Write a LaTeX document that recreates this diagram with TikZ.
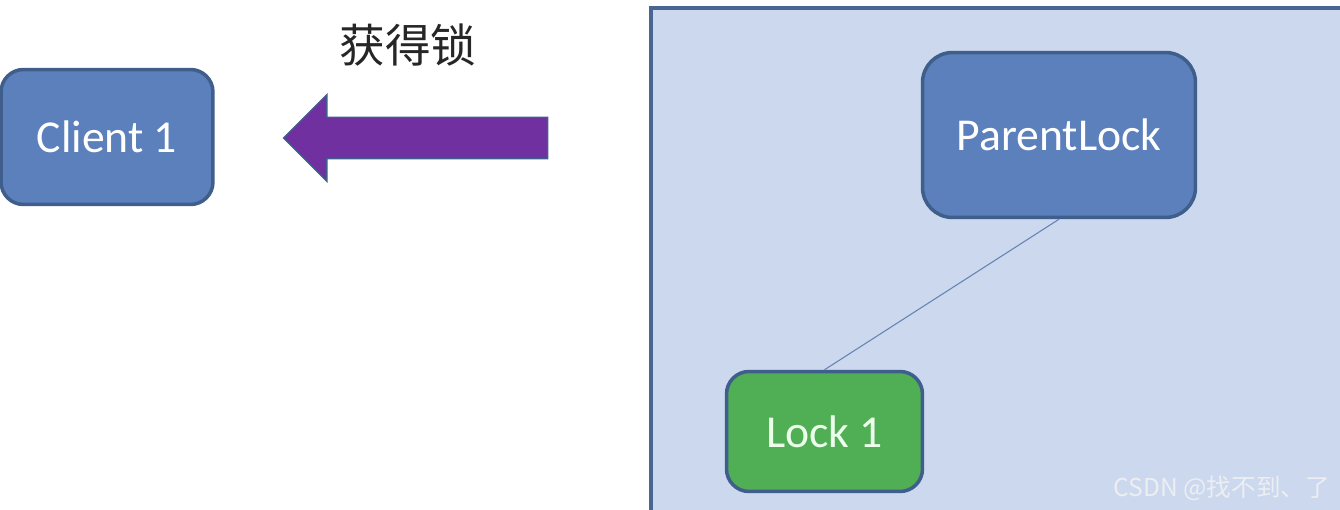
\documentclass[tikz,border=0pt]{standalone}
\usepackage{fontspec}
\setmainfont{Carlito}
\newfontfamily\cjk{Noto Sans CJK SC}
\definecolor{lkblue}{RGB}{91,128,188}
\definecolor{lkedge}{RGB}{64,94,140}
\definecolor{lkpanel}{RGB}{203,216,238}
\definecolor{lkpanedge}{RGB}{72,102,145}
\definecolor{lkgreen}{RGB}{80,175,84}
\definecolor{lkpurple}{RGB}{112,48,160}
\definecolor{lkline}{RGB}{100,130,180}
\definecolor{lkmark}{RGB}{236,238,242}
\usetikzlibrary{shapes.arrows}

\begin{document}
\begin{tikzpicture}[
  x=0.02cm, y=-0.02cm,
  lockbox/.style={
    rectangle, rounded corners=0.45cm,
    draw=lkedge, line width=2pt,
    fill=lkblue,
    font=\fontsize{26}{30}\selectfont,
    text=white,
    align=center
  },
  getarrow/.style={
    single arrow, shape border rotate=180,
    minimum width=1.7cm, minimum height=5.28cm,
    single arrow head extend=0.45cm,
    inner xsep=0pt, inner ysep=0.4cm,
    draw=lkedge, line width=0.8pt, fill=lkpurple
  },
  link/.style={draw=lkline, line width=0.6pt}
]
\useasboundingbox (0,0) rectangle (1340,510);
\fill[white] (0,0) rectangle (1340,510);

% server side
\draw[draw=lkpanedge, fill=lkpanel, line width=2pt] (651,8) rectangle (1360,530);

\node[lockbox, minimum width=4.24cm, minimum height=2.7cm] (client1) at (107,137) {Client 1};
\node[lockbox, minimum width=5.46cm, minimum height=3.3cm, rounded corners=0.6cm] (parent) at (1059,135) {ParentLock};
\node[lockbox, fill=lkgreen, text=green!8, minimum width=3.92cm, minimum height=2.4cm, rounded corners=0.45cm] (lock1) at (824.5,431.5) {Lock 1};

\draw[link] (parent.south) -- (lock1.north);

\node[getarrow] (grab) at (426,138) {};
\node[font=\cjk\fontsize{26}{30}\selectfont, text=black!85] (grablabel) at (408,45) {获得锁};

\node[font=\cjk\fontsize{14}{16}\selectfont, text=lkmark, anchor=east] (mark) at (1336,488) {CSDN @找不到、了};
\end{tikzpicture}
\end{document}
